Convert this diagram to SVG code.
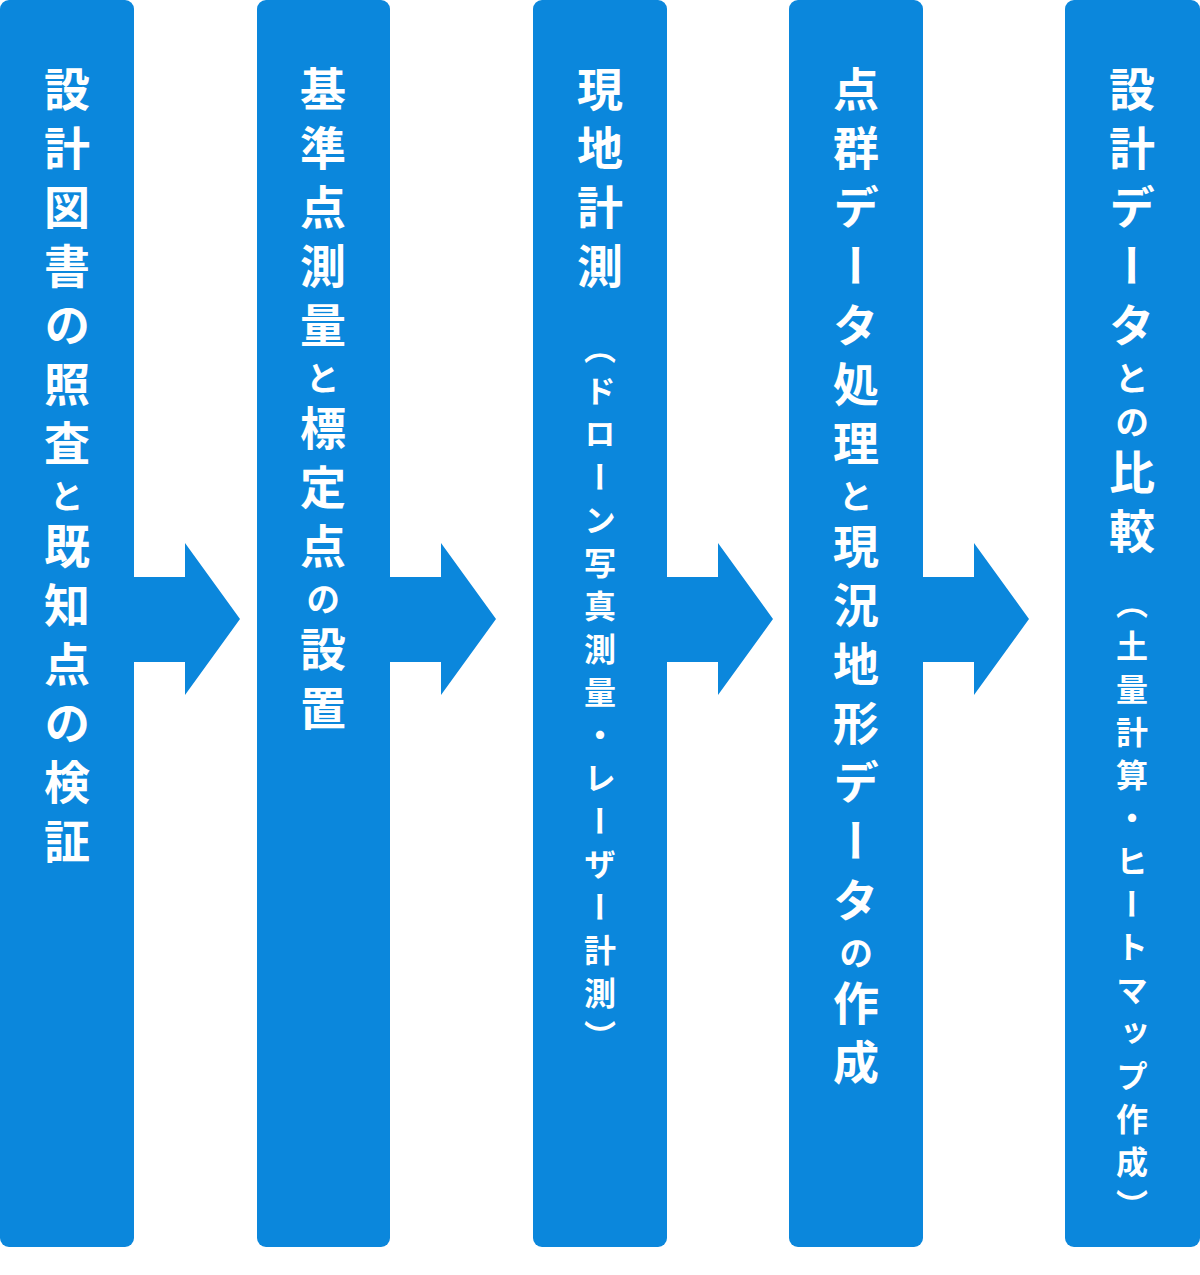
<svg xmlns="http://www.w3.org/2000/svg" width="1200" height="1275" viewBox="0 0 1200 1275">
<style>
.col{fill:#0b87dc}
.t{font-family:"Noto Sans CJK JP","Noto Sans",sans-serif;font-weight:700;fill:#fff;writing-mode:vertical-rl;font-size:46px;letter-spacing:13px}
.s{font-size:34px;letter-spacing:10px}
.p{font-size:32px;letter-spacing:11px}
</style>
<rect width="1200" height="1275" fill="#fff"/>
<g id="connectors" class="col">
<polygon points="134,577 185,577 185,543 240,619 185,695 185,662 134,662"/>
<polygon points="390,577 441,577 441,543 496,619 441,695 441,662 390,662"/>
<polygon points="667,577 718,577 718,543 773,619 718,695 718,662 667,662"/>
<polygon points="923,577 974,577 974,543 1029,619 974,695 974,662 923,662"/>
</g>
<g id="n1"><rect class="col" x="0" y="0" width="134" height="1247" rx="9"/>
<text class="t" x="67" y="66">設計図書の照査<tspan class="s">と</tspan>既知点の検証</text></g>
<g id="n2"><rect class="col" x="257" y="0" width="133" height="1247" rx="9"/>
<text class="t" x="323" y="66">基準点測量<tspan class="s">と</tspan>標定点<tspan class="s">の</tspan>設置</text></g>
<g id="n3"><rect class="col" x="533" y="0" width="134" height="1247" rx="9"/>
<text class="t" x="600" y="66">現地計測<tspan class="p" dy="30">（ドローン写真測量・レーザー計測）</tspan></text></g>
<g id="n4"><rect class="col" x="789" y="0" width="134" height="1247" rx="9"/>
<text class="t" x="856" y="66">点群データ処理<tspan class="s">と</tspan>現況地形データ<tspan class="s">の</tspan>作成</text></g>
<g id="n5"><rect class="col" x="1065" y="0" width="135" height="1247" rx="9"/>
<text class="t" x="1132" y="66">設計データ<tspan class="s">との</tspan>比較<tspan class="p" dy="20">（土量計算・ヒートマップ作成）</tspan></text></g>
</svg>
